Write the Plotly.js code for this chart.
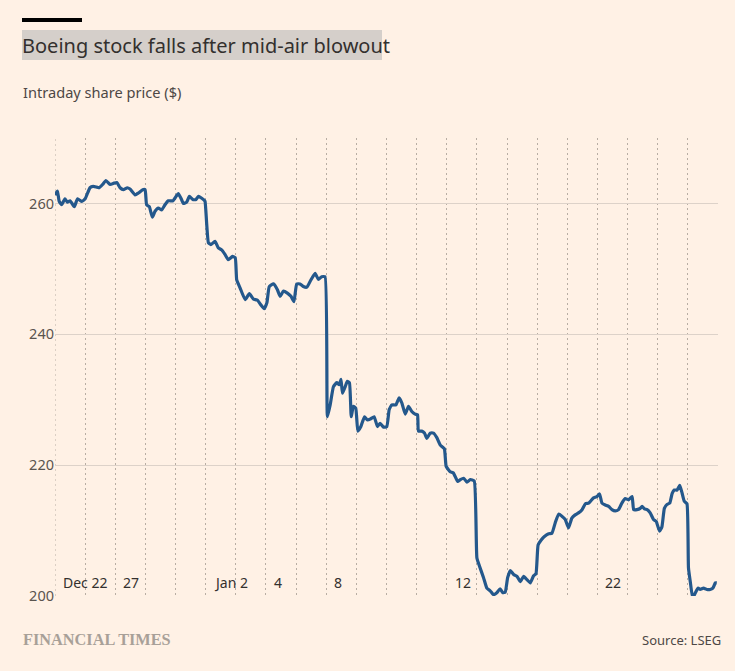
<!DOCTYPE html>
<html>
<head>
<meta charset="utf-8">
<script src="https://cdn.plot.ly/plotly-3.0.1.min.js"></script>
<style>html,body{margin:0;padding:0;background:#FFF1E5;}</style>
</head>
<body>
<div id="chart" style="width:735px;height:671px;"></div>
<script>
// Trading days shown (one dotted column each)
const tradingDays = ["Dec 22","Dec 26","Dec 27","Dec 28","Dec 29","Jan 2","Jan 3","Jan 4","Jan 5",
  "Jan 8","Jan 9","Jan 10","Jan 11","Jan 12","Jan 16","Jan 17","Jan 18","Jan 19","Jan 22","Jan 23","Jan 24","Jan 25"];
const tickLabels = ["Dec 22","27","Jan 2","4","8","12","22"];
const tickDayIndex = [0,2,5,7,9,13,18];
const yTicks = [200,220,240,260];

// Intraday position in trading days (fractional) and share price ($)
const t = [0.00,0.08,0.14,0.22,0.33,0.41,0.50,0.55,0.64,0.75,0.89,1.00,1.16,1.27,1.38,1.47,1.58,1.69,1.83,1.96,
  2.05,2.16,2.27,2.40,2.49,2.66,2.77,2.91,2.99,3.04,3.13,3.23,3.32,3.43,3.54,3.65,3.76,3.91,4.02,4.09,
  4.18,4.26,4.37,4.46,4.57,4.68,4.76,4.87,4.95,4.98,5.09,5.17,5.31,5.42,5.53,5.64,5.75,5.89,5.98,6.03,
  6.14,6.31,6.45,6.58,6.72,6.83,6.94,7.03,7.11,7.25,7.38,7.47,7.58,7.71,7.83,7.93,8.02,8.13,8.24,8.36,
  8.49,8.63,8.74,8.85,8.96,9.04,9.13,9.24,9.35,9.43,9.49,9.54,9.63,9.70,9.77,9.83,9.90,9.98,10.05,10.15,
  10.27,10.37,10.48,10.59,10.70,10.79,10.90,11.01,11.09,11.18,11.31,11.42,11.51,11.62,11.73,11.84,11.95,12.03,12.06,12.17,
  12.26,12.34,12.45,12.56,12.67,12.78,12.92,12.98,13.11,13.22,13.36,13.45,13.56,13.67,13.78,13.91,14.00,14.09,14.22,14.33,
  14.44,14.55,14.66,14.77,14.86,14.94,15.02,15.11,15.22,15.33,15.44,15.55,15.66,15.77,15.88,15.96,16.03,16.14,16.24,16.38,
  16.49,16.60,16.71,16.82,16.93,17.04,17.15,17.26,17.37,17.49,17.60,17.71,17.79,17.87,17.98,18.07,18.15,18.26,18.37,18.48,
  18.59,18.70,18.81,18.92,19.03,19.15,19.20,19.31,19.42,19.48,19.56,19.65,19.75,19.86,19.95,20.06,20.14,20.22,20.31,20.40,
  20.48,20.55,20.64,20.73,20.81,20.88,20.97,21.02,21.08,21.16,21.25,21.34,21.41,21.52,21.63,21.74,21.83,21.91,21.96];
const price = [261.3,261.9,260.3,259.8,260.7,260.2,260.4,260.1,259.5,260.7,260.3,260.7,262.4,262.6,262.5,262.4,262.9,263.5,262.9,263.1,
  263.2,262.4,262.1,262.4,262.2,261.3,261.6,262.1,262.1,259.8,259.5,257.9,258.8,259.3,259.0,259.8,260.4,260.4,261.1,261.5,
  260.8,260.0,260.2,261.1,260.6,260.6,261.1,260.8,260.5,260.3,254.0,253.7,254.2,253.2,252.9,252.2,251.4,251.9,251.7,248.3,
  247.1,245.3,246.2,245.4,245.2,244.5,243.9,244.8,247.3,247.7,246.8,245.8,246.6,246.3,245.8,245.0,247.7,247.7,247.3,247.2,
  248.3,249.3,248.4,248.8,248.8,227.4,229.2,232.0,232.6,232.3,233.1,231.0,232.0,232.8,232.6,227.4,229.0,228.7,225.2,225.9,
  227.4,226.9,227.1,227.4,225.9,226.4,225.8,225.9,228.5,229.2,229.2,230.3,229.5,227.8,229.0,228.2,227.8,227.7,225.2,225.2,
  224.9,224.1,224.9,224.9,224.2,223.1,222.5,219.8,219.0,218.8,217.5,217.8,218.0,217.4,217.8,217.6,205.8,204.5,202.8,201.2,
  200.8,200.2,200.5,201.1,200.5,200.6,202.8,203.9,203.3,203.0,202.2,203.0,202.5,202.0,203.1,203.4,207.8,208.6,209.1,209.5,
  209.6,211.2,212.5,212.2,211.7,210.4,211.9,212.4,212.7,213.2,214.1,214.2,214.6,215.0,215.2,215.6,214.2,213.9,213.7,213.2,
  213.0,213.2,214.2,214.9,214.7,215.2,213.2,213.2,213.4,213.7,213.3,213.2,212.7,211.7,211.4,209.9,210.6,213.4,214.0,214.2,
  215.7,216.2,216.2,216.9,215.7,214.5,214.1,204.3,202.2,199.7,200.5,201.2,201.0,201.2,201.0,201.0,201.2,202.0,202.0];

const W = 735, H = 671;
const M = {l:55, r:17, t:138, b:75};
const pw = W - M.l - M.r, ph = H - M.t - M.b;
const px2x = p => (p - M.l) / pw;
const py2y = p => (H - M.b - p) / ph;

const font = "Noto Sans, Open Sans, sans-serif";
const gridDot = {color: '#b8ada3', width: 1, dash: '2px,3px'};

const trace = {
  type: 'scatter', mode: 'lines',
  x: t, y: price,
  line: {color: '#24588c', width: 3.2, shape: 'spline', smoothing: 0.4},
  hoverinfo: 'skip'
};

const annotations = tickLabels.map((lab, i) => ({
  text: lab, x: tickDayIndex[i], y: 200, xref: 'x', yref: 'y',
  xanchor: 'left', yanchor: 'bottom', xshift: 6, yshift: 2, showarrow: false,
  font: {family: font, size: 14, color: '#33302e'}
}));
annotations.push({
  text: 'Intraday share price ($)', xref: 'paper', yref: 'paper',
  x: px2x(21), y: py2y(92), xanchor: 'left', yanchor: 'middle', showarrow: false,
  font: {family: font, size: 14.6, color: '#4d4845'}
});
annotations.push({
  text: '<b>FINANCIAL TIMES</b>', xref: 'paper', yref: 'paper',
  x: px2x(21), y: py2y(639), xanchor: 'left', yanchor: 'middle', showarrow: false,
  font: {family: 'Liberation Serif, DejaVu Serif, serif', size: 16.3, color: '#a8a098'}
});
annotations.push({
  text: 'Source: LSEG', xref: 'paper', yref: 'paper',
  x: px2x(723), y: py2y(640), xanchor: 'right', yanchor: 'middle', showarrow: false,
  font: {family: font, size: 13, color: '#4d4845'}
});

const shapes = [
  {type: 'rect', xref: 'paper', yref: 'paper', x0: px2x(22), x1: px2x(382), y0: py2y(60), y1: py2y(30),
   fillcolor: '#d5cfca', line: {width: 0}, layer: 'below'},
  {type: 'rect', xref: 'paper', yref: 'paper', x0: px2x(22), x1: px2x(82), y0: py2y(22), y1: py2y(18),
   fillcolor: '#000000', line: {width: 0}, layer: 'below'},
  // first trading-day separator on the left edge of the plot
  {type: 'line', xref: 'x', yref: 'paper', x0: 0, x1: 0, y0: 0, y1: 1, line: gridDot, layer: 'below'}
];

const layout = {
  width: W, height: H,
  margin: M,
  paper_bgcolor: '#FFF1E5', plot_bgcolor: '#FFF1E5',
  showlegend: false,
  title: {
    text: 'Boeing stock falls after mid-air blowout',
    xref: 'container', yref: 'container', x: 22 / W, y: 1 - 46 / H,
    xanchor: 'left', yanchor: 'middle',
    font: {family: font, size: 20, color: '#33302e'}
  },
  xaxis: {
    range: [0, 22], tickvals: tradingDays.map((d, i) => i), showticklabels: false,
    showgrid: true, gridcolor: gridDot.color, griddash: gridDot.dash, gridwidth: 1,
    zeroline: false, showline: false, ticks: '', fixedrange: true
  },
  yaxis: {
    range: [200, 270], tickvals: yTicks, ticktext: yTicks.map(String),
    showgrid: true, gridcolor: '#ddd2c9', gridwidth: 1.2,
    zeroline: false, showline: false, ticks: '',
    tickfont: {family: font, size: 14.5, color: '#5a544f'}, fixedrange: true
  },
  annotations: annotations,
  shapes: shapes
};

Plotly.newPlot('chart', [trace], layout, {displayModeBar: false, staticPlot: true});
</script>
</body>
</html>
